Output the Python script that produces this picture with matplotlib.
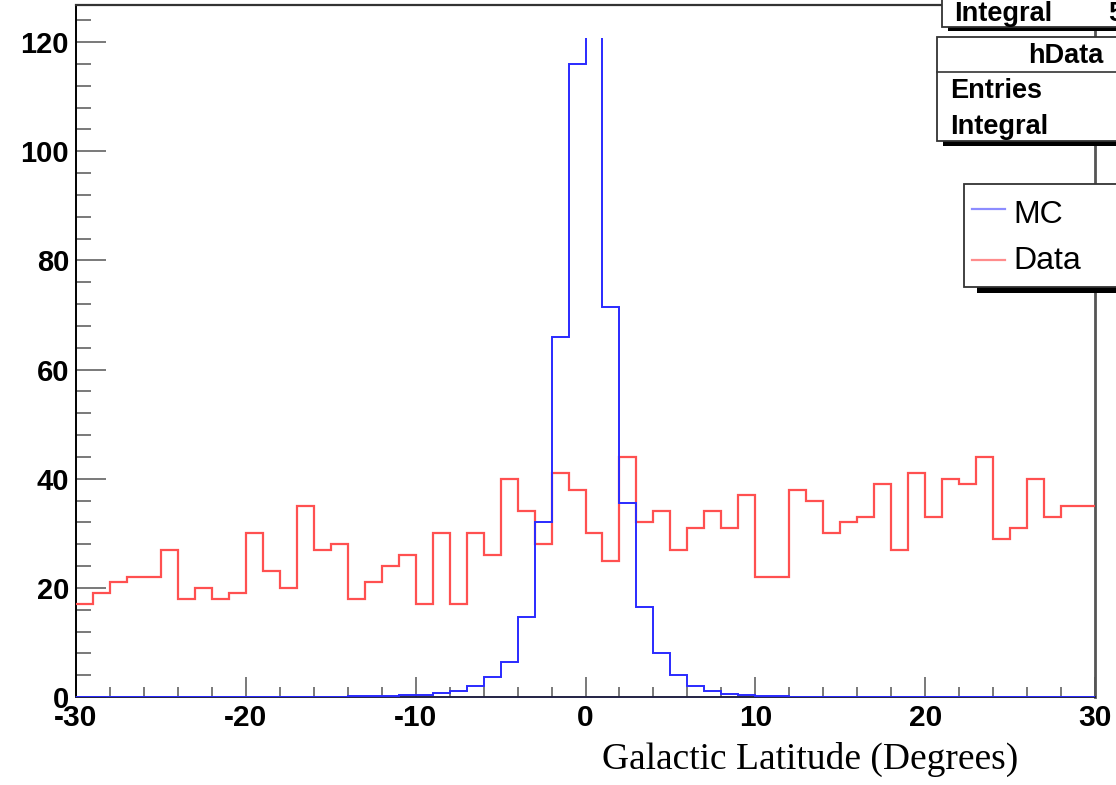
import matplotlib
matplotlib.use('Agg')
import matplotlib.pyplot as plt
import numpy as np
from matplotlib.patches import Rectangle

plt.rcParams['axes.unicode_minus'] = False

# bin edges: 60 bins of 1 degree
edges = np.arange(-30, 31, 1)

# Data histogram (red)
data_counts = [17, 19, 21, 22, 22, 27, 18, 20, 18, 19,
               30, 23, 20, 35, 27, 28, 18, 21, 24, 26,
               17, 30, 17, 30, 26, 40, 34, 28, 41, 38,
               30, 25, 44, 32, 34, 27, 31, 34, 31, 37,
               22, 22, 38, 36, 30, 32, 33, 39, 27, 41,
               33, 40, 39, 44, 29, 31, 40, 33, 35, 35]

# MC histogram (blue), peak bin goes off the top
mc_counts = [0, 0, 0, 0, 0, 0, 0, 0, 0, 0,
             0, 0, 0, 0, 0, 0, 0.1, 0.1, 0.2, 0.3,
             0.4, 0.7, 1.1, 2.0, 3.6, 6.5, 14.6, 32, 66, 116,
             160, 71.5, 35.5, 16.5, 8.0, 4.0, 2.1, 1.1, 0.55, 0.37,
             0.2, 0.1, 0.05, 0.05, 0.05, 0, 0, 0, 0, 0,
             0, 0, 0, 0, 0, 0, 0, 0, 0, 0]

W, H = 1116, 785
fig = plt.figure(figsize=(W / 100, H / 100), dpi=100, facecolor='w')
ax = fig.add_axes([76 / W, 1 - 697 / H, (1095 - 76) / W, (697 - 5) / H])

ax.stairs(data_counts, edges, baseline=None, color='#ff5050', lw=1.6, zorder=3)
mc = ax.stairs(mc_counts, edges, baseline=None, color='#2a2aff', lw=1.4, zorder=4)
clip = Rectangle((-30, 0), 60, 120.7, transform=ax.transData)
mc.set_clip_path(clip)

ax.set_xlim(-30, 30)
ax.set_ylim(0, 126.8)

ax.set_xticks(np.arange(-30, 31, 10))
ax.set_xticks(np.arange(-30, 31, 2), minor=True)
ax.set_yticks(np.arange(0, 121, 20))
ax.set_yticks(np.arange(0, 127, 4), minor=True)

ax.tick_params(axis='y', which='major', direction='in', length=21.6, width=1.1, color='#555555', pad=5)
ax.tick_params(axis='y', which='minor', direction='in', length=10.8, width=1.1, color='#555555')
ax.tick_params(axis='x', which='major', direction='in', length=14.4, width=1.1, color='#555555', pad=5)
ax.tick_params(axis='x', which='minor', direction='in', length=7.2, width=1.1, color='#555555')

for lab in ax.get_yticklabels():
    lab.set_fontfamily('Liberation Sans')
    lab.set_fontweight('bold')
    lab.set_fontsize(21)
for lab in ax.get_xticklabels():
    lab.set_fontfamily('Liberation Sans')
    lab.set_fontweight('bold')
    lab.set_fontsize(21.5)

ax.spines['left'].set_color('black')
ax.spines['left'].set_linewidth(1.4)
ax.spines['bottom'].set_color('#222244')
ax.spines['bottom'].set_linewidth(1.4)
ax.spines['top'].set_color('#333333')
ax.spines['top'].set_linewidth(1.6)
ax.spines['right'].set_color('#555555')
ax.spines['right'].set_linewidth(2)

fig.text(602 / W, 1 - 769 / H, 'Galactic Latitude (Degrees)', fontfamily='Liberation Serif',
         fontsize=27, ha='left', va='baseline')

# overlay in pixel coordinates for the stat boxes and legend
ov = fig.add_axes([0, 0, 1, 1], zorder=5)
ov.set_xlim(0, W)
ov.set_ylim(H, 0)
ov.axis('off')
ov.patch.set_alpha(0)

box_kw = dict(facecolor='white', edgecolor='#333333', lw=1.3)
# shadows
ov.add_patch(Rectangle((948, 20), 200, 11, facecolor='black', edgecolor='none'))
ov.add_patch(Rectangle((943, 45), 200, 101, facecolor='black', edgecolor='none'))
ov.add_patch(Rectangle((977, 190), 200, 103, facecolor='black', edgecolor='none'))
# boxes
ov.add_patch(Rectangle((942, -10), 200, 37, **box_kw))
ov.add_patch(Rectangle((937, 37), 200, 104, **box_kw))
ov.plot([937, 1116], [72, 72], color='#333333', lw=1.2)
ov.add_patch(Rectangle((964, 184), 200, 103, **box_kw))

stat_font = dict(fontfamily='Liberation Sans', fontweight='bold', fontsize=19.5, va='baseline')
ov.text(954, 21, 'Integral', ha='left', **stat_font)
ov.text(1108, 21, '5', ha='left', **stat_font)
ov.text(1066, 63, 'hData', ha='center', **stat_font)
ov.text(950, 98, 'Entries', ha='left', **stat_font)
ov.text(950, 134, 'Integral', ha='left', **stat_font)

ov.plot([972, 1005], [209, 209], color='#8c8cff', lw=1.6)
ov.plot([972, 1005], [260, 260], color='#ff8c8c', lw=1.6)
ov.text(1013, 223, 'MC', fontfamily='Liberation Sans', fontsize=23, ha='left', va='baseline')
ov.text(1013, 269, 'Data', fontfamily='Liberation Sans', fontsize=23, ha='left', va='baseline')

plt.savefig('out.png', dpi=100, facecolor='w')
